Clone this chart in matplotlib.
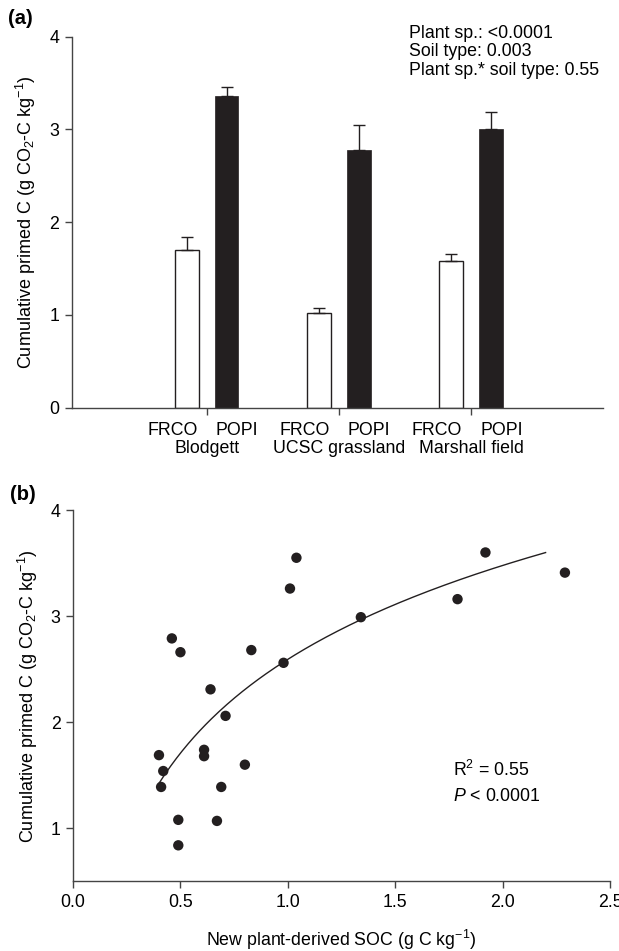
import numpy as np
import matplotlib
matplotlib.use("Agg")
import matplotlib.pyplot as plt

plt.rcParams['font.family'] = ['Liberation Sans', 'DejaVu Sans']
plt.rcParams['mathtext.fontset'] = 'custom'
plt.rcParams['mathtext.rm'] = 'Liberation Sans'
plt.rcParams['mathtext.it'] = 'Liberation Sans:italic'
plt.rcParams['font.size'] = 12.8

# --------------------------
# Data
# --------------------------
sites = ['Blodgett', 'UCSC grassland', 'Marshall field']
species = ['FRCO', 'POPI']
frco_mean = [1.70, 1.02, 1.58]
frco_se = [0.14, 0.06, 0.08]
popi_mean = [3.36, 2.78, 3.00]
popi_se = [0.10, 0.27, 0.19]

stats_lines = ['Plant sp.: <0.0001', 'Soil type: 0.003', 'Plant sp.* soil type: 0.55']

new_soc = [0.46, 0.50, 0.83, 0.98, 1.04, 1.01, 1.34, 1.79, 1.92, 2.29,
           0.64, 0.71, 0.40, 0.61, 0.61, 0.42, 0.80, 0.41, 0.69, 0.49, 0.67, 0.49]
primed_c = [2.79, 2.66, 2.68, 2.56, 3.55, 3.26, 2.99, 3.16, 3.60, 3.41,
            2.31, 2.06, 1.69, 1.74, 1.68, 1.54, 1.60, 1.39, 1.39, 1.08, 1.07, 0.84]

# log fit shown in panel b (y = a + b ln x)
fit_a, fit_b = 2.593, 1.276
fit_range = (0.40, 2.20)

ink = '#231f20'
spine_col = '#444444'
ylab = 'Cumulative primed C (g CO$_2$-C kg$^{-1}$)'

fig = plt.figure(figsize=(6.19, 9.51), dpi=100)

# --------------------------
# (a) bar chart
# --------------------------
ax1 = fig.add_axes([0.1163, 0.5713, 0.858, 0.3901])
pos = np.arange(len(sites))
w, off = 0.18, 0.15
ax1.bar(pos - off, frco_mean, w, color='white', edgecolor=ink, linewidth=1.0,
        yerr=[np.zeros(3), frco_se], capsize=4.5,
        error_kw=dict(ecolor=ink, elinewidth=1.0, capthick=1.0))
ax1.bar(pos + off, popi_mean, w, color=ink, edgecolor=ink, linewidth=0.5,
        yerr=[np.zeros(3), popi_se], capsize=4.5,
        error_kw=dict(ecolor=ink, elinewidth=1.0, capthick=1.0))
ax1.set_xlim(-1.02, 3.0)
ax1.set_ylim(0, 4)
ax1.set_yticks([0, 1, 2, 3, 4])
ax1.set_xticks(pos)
ax1.set_xticklabels([])
ax1.set_ylabel(ylab, fontsize=13, labelpad=8)
for p, s in zip(pos, sites):
    ax1.annotate(species[0], (p - 0.26, 0), xycoords=('data', 'axes fraction'),
                 xytext=(0, -16.5), textcoords='offset points', ha='center', va='center')
    ax1.annotate(species[1], (p + 0.23, 0), xycoords=('data', 'axes fraction'),
                 xytext=(0, -16.5), textcoords='offset points', ha='center', va='center')
    ax1.annotate(s, (p, 0), xycoords=('data', 'axes fraction'),
                 xytext=(0, -29.5), textcoords='offset points', ha='center', va='center')
for i, line in enumerate(stats_lines):
    fig.text(409 / 619, 1 - (33 + 18.8 * i) / 951, line, ha='left', va='center')
fig.text(8 / 619, 1 - 19 / 951, '(a)', fontweight='bold', fontsize=14.5, ha='left', va='center')

# --------------------------
# (b) scatter with log fit
# --------------------------
ax2 = fig.add_axes([0.118, 0.0732, 0.8675, 0.3905])
ax2.scatter(new_soc, primed_c, s=56, color=ink, edgecolors='none', zorder=3)
xf = np.linspace(*fit_range, 200)
ax2.plot(xf, fit_a + fit_b * np.log(xf), color=ink, linewidth=1.0)
ax2.set_xlim(0, 2.5)
ax2.set_ylim(0.5, 4)
ax2.set_xticks(np.arange(0, 2.51, 0.5))
ax2.set_xticklabels([f'{v:.1f}' for v in np.arange(0, 2.51, 0.5)])
ax2.set_yticks([1, 2, 3, 4])
ax2.set_ylabel(ylab, fontsize=13, labelpad=8)
ax2.set_xlabel('New plant-derived SOC (g C kg$^{-1}$)', labelpad=12)
ax2.text(1.77, 1.55, 'R$^2$ = 0.55', ha='left', va='center')
ax2.text(1.77, 1.30, '$P$ < 0.0001', ha='left', va='center')
fig.text(10 / 619, 1 - 495 / 951, '(b)', fontweight='bold', fontsize=14.5, ha='left', va='center')

for ax in (ax1, ax2):
    for side in ('top', 'right'):
        ax.spines[side].set_visible(False)
    for side in ('left', 'bottom'):
        ax.spines[side].set_color(spine_col)
        ax.spines[side].set_linewidth(1.0)
    ax.tick_params(direction='out', length=5, width=1.0, color=spine_col, pad=4)

fig.savefig('out.png', dpi=100)
